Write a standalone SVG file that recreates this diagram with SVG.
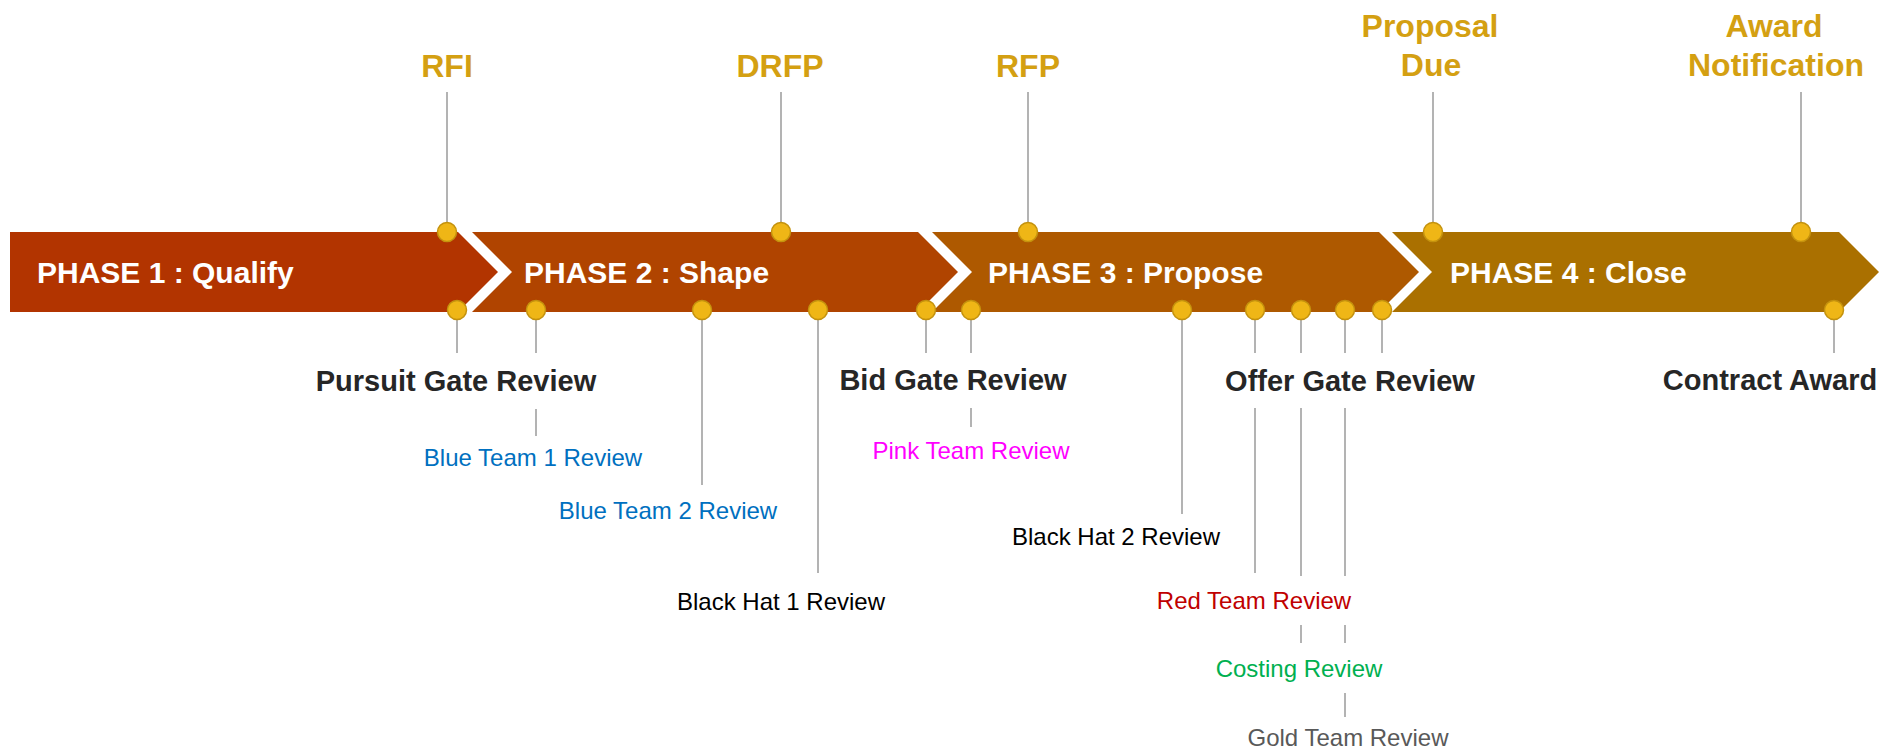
<svg xmlns="http://www.w3.org/2000/svg" width="1895" height="753" viewBox="0 0 1895 753">
<style>
.phase{stroke:none}
.ptxt{font-family:"Liberation Sans",Arial,sans-serif;font-weight:bold;font-size:30px;fill:#ffffff}
.top{font-family:"Liberation Sans",Arial,sans-serif;font-weight:bold;font-size:32px;fill:#D4A012;text-anchor:middle}
.gate{font-family:"Liberation Sans",Arial,sans-serif;font-weight:bold;font-size:29px;fill:#262626;text-anchor:middle}
.rev{font-family:"Liberation Sans",Arial,sans-serif;font-size:24px}
.dot{fill:#EFB616;stroke:#C4920E;stroke-width:1.5}
.ln{stroke:#808080;stroke-width:1.2;fill:none}
</style>
<rect width="1895" height="753" fill="#ffffff"/>
<g id="phase1"><polygon class="phase" fill="#B23400" points="10,232 458,232 498,272 458,312 10,312"/><text class="ptxt" x="37" y="283">PHASE 1 : Qualify</text></g>
<g id="phase2"><polygon class="phase" fill="#B04400" points="472,232 918,232 958,272 918,312 472,312 512,272"/><text class="ptxt" x="524" y="283">PHASE 2 : Shape</text></g>
<g id="phase3"><polygon class="phase" fill="#AE5900" points="932,232 1379,232 1419,272 1379,312 932,312 972,272"/><text class="ptxt" x="988" y="283">PHASE 3 : Propose</text></g>
<g id="phase4"><polygon class="phase" fill="#AA7000" points="1392,232 1839,232 1879,272 1839,312 1392,312 1432,272"/><text class="ptxt" x="1450" y="283">PHASE 4 : Close</text></g>
<g id="connectors">
<line class="ln" x1="447" y1="92" x2="447" y2="232"/>
<line class="ln" x1="781" y1="92" x2="781" y2="232"/>
<line class="ln" x1="1028" y1="92" x2="1028" y2="232"/>
<line class="ln" x1="1433" y1="92" x2="1433" y2="232"/>
<line class="ln" x1="1801" y1="92" x2="1801" y2="232"/>
<line class="ln" x1="457" y1="310" x2="457" y2="353"/>
<line class="ln" x1="536" y1="310" x2="536" y2="353"/>
<line class="ln" x1="536" y1="409" x2="536" y2="436"/>
<line class="ln" x1="702" y1="310" x2="702" y2="485"/>
<line class="ln" x1="818" y1="310" x2="818" y2="573"/>
<line class="ln" x1="926" y1="310" x2="926" y2="353"/>
<line class="ln" x1="971" y1="310" x2="971" y2="353"/>
<line class="ln" x1="971" y1="408" x2="971" y2="427"/>
<line class="ln" x1="1182" y1="310" x2="1182" y2="514"/>
<line class="ln" x1="1255" y1="310" x2="1255" y2="353"/>
<line class="ln" x1="1255" y1="408" x2="1255" y2="573"/>
<line class="ln" x1="1301" y1="310" x2="1301" y2="353"/>
<line class="ln" x1="1301" y1="408" x2="1301" y2="576"/>
<line class="ln" x1="1301" y1="625" x2="1301" y2="643"/>
<line class="ln" x1="1345" y1="310" x2="1345" y2="353"/>
<line class="ln" x1="1345" y1="408" x2="1345" y2="576"/>
<line class="ln" x1="1345" y1="625" x2="1345" y2="643"/>
<line class="ln" x1="1345" y1="693" x2="1345" y2="717"/>
<line class="ln" x1="1382" y1="310" x2="1382" y2="353"/>
<line class="ln" x1="1834" y1="310" x2="1834" y2="353"/>
</g>
<g id="rfi"><circle class="dot" cx="447" cy="232" r="9.5"/><text class="top" x="447" y="77">RFI</text></g>
<g id="drfp"><circle class="dot" cx="781" cy="232" r="9.5"/><text class="top" x="780" y="77">DRFP</text></g>
<g id="rfp"><circle class="dot" cx="1028" cy="232" r="9.5"/><text class="top" x="1028" y="77">RFP</text></g>
<g id="proposal-due"><circle class="dot" cx="1433" cy="232" r="9.5"/><text class="top" x="1430" y="37">Proposal</text><text class="top" x="1431" y="76">Due</text></g>
<g id="award-notification"><circle class="dot" cx="1801" cy="232" r="9.5"/><text class="top" x="1774" y="37">Award</text><text class="top" x="1776" y="76">Notification</text></g>
<g id="pursuit-gate"><circle class="dot" cx="457" cy="310" r="9.5"/><text class="gate" x="456" y="391">Pursuit Gate Review</text></g>
<g id="blue-team-1"><circle class="dot" cx="536" cy="310" r="9.5"/><text class="rev" x="533" y="466" text-anchor="middle" fill="#0070C0">Blue Team 1 Review</text></g>
<g id="blue-team-2"><circle class="dot" cx="702" cy="310" r="9.5"/><text class="rev" x="668" y="519" text-anchor="middle" fill="#0070C0">Blue Team 2 Review</text></g>
<g id="black-hat-1"><circle class="dot" cx="818" cy="310" r="9.5"/><text class="rev" x="781" y="610" text-anchor="middle" fill="#000000">Black Hat 1 Review</text></g>
<g id="bid-gate"><circle class="dot" cx="926" cy="310" r="9.5"/><text class="gate" x="953" y="390">Bid Gate Review</text></g>
<g id="pink-team"><circle class="dot" cx="971" cy="310" r="9.5"/><text class="rev" x="971" y="459" text-anchor="middle" fill="#FF00FF">Pink Team Review</text></g>
<g id="black-hat-2"><circle class="dot" cx="1182" cy="310" r="9.5"/><text class="rev" x="1116" y="545" text-anchor="middle" fill="#000000">Black Hat 2 Review</text></g>
<g id="red-team"><circle class="dot" cx="1255" cy="310" r="9.5"/><text class="rev" x="1254" y="609" text-anchor="middle" fill="#C00000">Red Team Review</text></g>
<g id="costing"><circle class="dot" cx="1301" cy="310" r="9.5"/><text class="rev" x="1299" y="677" text-anchor="middle" fill="#00B050">Costing Review</text></g>
<g id="gold-team"><circle class="dot" cx="1345" cy="310" r="9.5"/><text class="rev" x="1348" y="746" text-anchor="middle" fill="#595959">Gold Team Review</text></g>
<g id="offer-gate"><circle class="dot" cx="1382" cy="310" r="9.5"/><text class="gate" x="1350" y="391">Offer Gate Review</text></g>
<g id="contract-award"><circle class="dot" cx="1834" cy="310" r="9.5"/><text class="gate" x="1770" y="390">Contract Award</text></g>
</svg>
